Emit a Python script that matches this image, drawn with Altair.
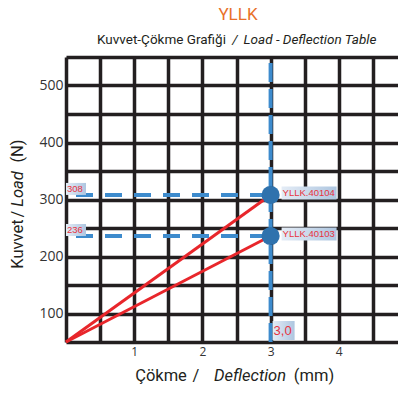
import altair as alt
import pandas as pd

# ---- data ----
products = ["YLLK.40104", "YLLK.40103"]
loads = [308, 236]
load_labels = ["308", "236"]
deflection = 3.0
deflection_label = "3,0"
start_x = 0
start_y = 50
x_domain = [0, 5]
y_domain = [50, 550]
x_grid = [0, 0.5, 1, 1.5, 2, 2.5, 3, 3.5, 4, 4.5, 5]
y_grid = [50, 100, 150, 200, 250, 300, 350, 400, 450, 500, 550]

W, H = 332, 285
GRID = "#231f20"
RED = "#e8262b"
LRED = "#e8333f"
BLUE = "#3d8bcd"
DOT = "#2f72ad"
FONT = "Roboto"

lines_df = pd.DataFrame(
    [{"product": p, "x": start_x, "y": start_y} for p in products]
    + [{"product": p, "x": deflection, "y": l} for p, l in zip(products, loads)]
)
pts_df = pd.DataFrame({"product": products, "x": [deflection] * len(loads),
                       "y": loads, "lbl": load_labels, "x0": [start_x] * len(loads)})
vline_df = pd.DataFrame({"x": [deflection], "y": [y_domain[0]], "y2": [y_domain[1]],
                         "lbl": [deflection_label]})

x_axis = alt.Axis(values=x_grid, grid=True, gridColor=GRID, gridWidth=3.5, domain=False,
                  ticks=False,
                  labelExpr="datum.value % 1 == 0 && datum.value > 0 ? format(datum.value, 'd') : ''",
                  labelFontSize=12, labelColor="#333333", labelFont="Open Sans", labelPadding=4,
                  title=None)
y_axis = alt.Axis(values=y_grid, grid=True, gridColor=GRID, gridWidth=3.5, domain=False,
                  ticks=False,
                  labelExpr="datum.value % 100 == 0 && datum.value < 550 ? format(datum.value, 'd') : ''",
                  labelFontSize=14, labelColor="#333333", labelFont="Open Sans", labelPadding=3,
                  title=None)
xs = alt.Scale(domain=x_domain, nice=False, zero=False, range=[0, 341])
ys = alt.Scale(domain=y_domain, nice=False, zero=False)


def X(f="x"):
    return alt.X(f, type="quantitative", scale=xs, axis=x_axis)


def Y(f="y"):
    return alt.Y(f, type="quantitative", scale=ys, axis=y_axis)


red_lines = alt.Chart(lines_df).mark_line(color=RED, strokeWidth=3).encode(
    x=X(), y=Y(), detail="product:N")

hdash = alt.Chart(pts_df).mark_rule(color=BLUE, strokeWidth=4, strokeDash=[17, 12],
                                    strokeDashOffset=19).encode(
    x=X("x0"), x2="x", y=Y())

vdash = alt.Chart(vline_df).mark_rule(color=BLUE, strokeWidth=4, strokeDash=[19, 7]).encode(
    x=X(), y=Y("y"), y2="y2")

dots = alt.Chart(pts_df).mark_circle(size=330, color=DOT, opacity=1).encode(x=X(), y=Y())

grad = alt.LinearGradient(gradient="linear", x1=0, x2=1, y1=0, y2=0,
                          stops=[alt.GradientStop(color="#e4ecf6", offset=0),
                                 alt.GradientStop(color="#aec6e0", offset=1)])

name_box = alt.Chart(pts_df).mark_rect(fill=grad, width=55, height=13, xOffset=38.5,
                                       yOffset=-2).encode(x=X(), y=Y())
name_txt = alt.Chart(pts_df).mark_text(color=LRED, fontSize=9.5, align="left", dx=12, dy=-2,
                                       font="Liberation Sans").encode(
    x=X(), y=Y(), text="product:N")

val_box = alt.Chart(pts_df).mark_rect(fill=grad, width=20, height=12, xOffset=10,
                                      yOffset=-6).encode(x=X("x0"), y=Y())
val_txt = alt.Chart(pts_df).mark_text(color=LRED, fontSize=9.5, align="left", dx=1, dy=-6,
                                      font="Liberation Sans").encode(
    x=X("x0"), y=Y(), text="lbl:N")

defl_box = alt.Chart(vline_df).mark_rect(fill=grad, width=22, height=19, xOffset=13,
                                         yOffset=-11.5).encode(x=X(), y=Y("y"))
defl_txt = alt.Chart(vline_df).mark_text(color=LRED, fontSize=13, align="left", dx=3, dy=-11,
                                         font="Liberation Sans").encode(
    x=X(), y=Y("y"), text="lbl:N")

# ---- titles as text pieces ----
one = pd.DataFrame({"a": [0]})


def piece(txt, px, py, size, color=GRID, italic=False, angle=0, font=FONT):
    kw = dict(text=txt, fontSize=size, color=color, align="center", baseline="middle",
              font=font, fontWeight="normal")
    if italic:
        kw["fontStyle"] = "italic"
    if angle:
        kw["angle"] = angle
    return alt.Chart(one).mark_text(**kw).encode(x=alt.value(px), y=alt.value(py))


texts = [
    piece("YLLK", 172, -42, 17, color="#e8702a"),
    piece("Kuvvet-Çökme Grafiği", 95.5, -17, 13.5),
    piece("/", 169, -17, 13.5, italic=True),
    piece("Load - Deflection Table", 244, -17, 13.5, italic=True),
    piece("Çökme", 95, 319, 16.5),
    piece("/", 130, 319, 16.5),
    piece("Deflection", 184, 319, 16.5, italic=True),
    piece("(mm)", 248, 319, 16.5),
    piece("Kuvvet", -48, 187, 16.5, angle=270),
    piece("/", -48, 157, 16.5, angle=270),
    piece("Load", -48, 132, 16.5, italic=True, angle=270),
    piece("(N)", -48, 94, 16.5, angle=270),
]

chart = alt.layer(
    red_lines, hdash, vdash, dots, name_box, name_txt, val_box, val_txt, defl_box, defl_txt,
    *texts
).properties(
    width=W, height=H,
    autosize=alt.AutoSizeParams(type="none"),
    padding={"left": 58, "top": 49, "right": 0, "bottom": 44},
).configure_view(stroke=None).configure(background="white")

chart.save("out.html", embed_options={"renderer": "svg", "actions": False})
